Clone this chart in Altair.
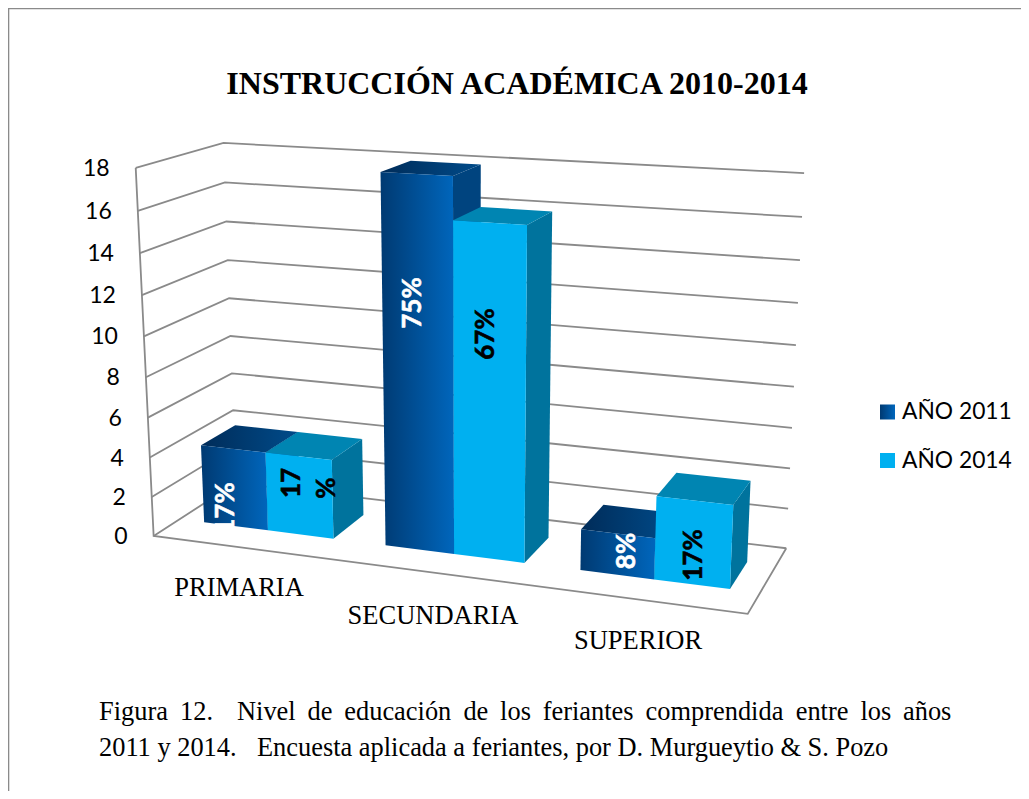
import numpy as np
import pandas as pd
import altair as alt

TITLE = "INSTRUCCIÓN ACADÉMICA 2010-2014"
categories = ["PRIMARIA", "SECUNDARIA", "SUPERIOR"]
values_2011 = [4, 18, 2]
values_2014 = [4, 16, 4]
series_names = ["AÑO 2011", "AÑO 2014"]
tick_values = [0, 2, 4, 6, 8, 10, 12, 14, 16, 18]
caption_line1 = ["Figura", "12.", "Nivel", "de", "educación", "de", "los", "feriantes",
                 "comprendida", "entre", "los", "años"]
caption_line2 = ["2011 y 2014.", "Encuesta aplicada a feriantes, por D. Murgueytio & S. Pozo"]

# camera calibration of the 3-D box: (category axis, value axis, depth) -> picture
VMAX = 18.0
calib = [
    ((0, 0, 0), (153, 535)), ((1, 0, 0), (748, 614)), ((0, 0, 1), (236, 484)), ((1, 0, 1), (786, 548)),
    ((0, 1, 0), (135, 168)), ((0, 1, 1), (224, 143)), ((1, 1, 1), (804, 173)),
    ((1, 8 / 18, 1), (794, 387)), ((0, 8 / 18, 1), (230, 335)), ((0, 8 / 18, 0), (147, 378)),
]
A = []
for (X, Y, Z), (u, v) in calib:
    A.append([X, Y, Z, 1, 0, 0, 0, 0, -u * X, -u * Y, -u * Z, -u])
    A.append([0, 0, 0, 0, X, Y, Z, 1, -v * X, -v * Y, -v * Z, -v])
P = np.linalg.svd(np.array(A, dtype=float) / 100.0)[2][-1].reshape(3, 4)


def proj(t, value, depth):
    """t in category units (0..3), value in data units, depth 0..1"""
    h = P @ np.array([t / 3.0, value / VMAX, depth, 1.0])
    return float(h[0] / h[2]), float(h[1] / h[2])


GAP = 0.14
BAR = 0.36
D0, D1 = 0.30, 0.72
W, H = 1013, 783
X_SCALE = alt.Scale(domain=[8, 8 + W], range=[0, W], nice=False, zero=False)
Y_SCALE = alt.Scale(domain=[8, 8 + H], range=[0, H], nice=False, zero=False)
enc_x = alt.X("x:Q", scale=X_SCALE, axis=None)
enc_y = alt.Y("y:Q", scale=Y_SCALE, axis=None)


def grad(c0, c1):
    return alt.LinearGradient(gradient="linear", x1=0, x2=1, y1=0, y2=0,
                              stops=[alt.GradientStop(offset=0, color=c0),
                                     alt.GradientStop(offset=1, color=c1)])


STY = {
    0: dict(front=grad("#003a72", "#0066bc"), top=grad("#002c59", "#004b8a"), side="#00447f"),
    1: dict(front="#00b0f0", top="#0085b2", side="#00739d"),
}


def poly(points, fill):
    pts = points + points[:1]
    df = pd.DataFrame({"x": [p[0] for p in pts], "y": [p[1] for p in pts], "i": range(len(pts))})
    return alt.Chart(df).mark_line(fill=fill, strokeWidth=0).encode(x=enc_x, y=enc_y, order="i:Q")


def polyline(points, w=1.8):
    df = pd.DataFrame({"x": [p[0] for p in points], "y": [p[1] for p in points], "i": range(len(points))})
    return alt.Chart(df).mark_line(color="#8a8a8a", strokeWidth=w).encode(x=enc_x, y=enc_y, order="i:Q")


def text(s, x, y, size, font, **kw):
    df = pd.DataFrame({"x": [x], "y": [y], "s": [s]})
    return alt.Chart(df).mark_text(fontSize=size, font=font, **kw).encode(x=enc_x, y=enc_y, text="s:N")


SERIF = "Liberation Serif"
SANS = "Lato"
layers = []

# page frame
layers.append(polyline([(8 + W, 8.5), (8.5, 8.5), (8.5, 8 + H)], 1.6))

# walls and floor
for v in tick_values:
    layers.append(polyline([proj(0, v, 0), proj(0, v, 1), proj(3, v, 1)]))
layers.append(polyline([proj(0, 18, 0), proj(0, 0, 0), proj(3, 0, 0), proj(3, 0, 1)]))

# bars
for i, _ in enumerate(categories):
    for s, vals in enumerate([values_2011, values_2014]):
        v = vals[i]
        t0 = i + GAP + s * BAR
        t1 = t0 + BAR
        st = STY[s]
        layers.append(poly([proj(t1, 0, D0), proj(t1, 0, D1), proj(t1, v, D1), proj(t1, v, D0)], st["side"]))
        layers.append(poly([proj(t0, v, D0), proj(t1, v, D0), proj(t1, v, D1), proj(t0, v, D1)], st["top"]))
        layers.append(poly([proj(t0, 0, D0), proj(t1, 0, D0), proj(t1, v, D0), proj(t0, v, D0)], st["front"]))

# tick labels follow the front-left edge
for v in tick_values:
    px, py = proj(0, v, 0)
    layers.append(text(str(v), px - 26, py + 1, 23, SANS, align="right", baseline="middle", color="#000000"))

# category labels
cat_pos = [(239, 596), (433, 624), (638, 649)]
for c, (x, y) in zip(categories, cat_pos):
    layers.append(text(c, x, y, 26.5, SERIF, align="center", baseline="alphabetic", color="#000000"))

# bar labels
bar_labels = [
    ("17%", 226, 508, "#ffffff"), ("17", 292, 483, "#000000"), ("%", 327, 488, "#000000"),
    ("75%", 413, 303, "#ffffff"), ("67%", 486, 334, "#000000"),
    ("8%", 627, 551, "#ffffff"), ("17%", 693.5, 555, "#000000"),
]
for s, x, y, col in bar_labels:
    layers.append(text(s, x, y, 26, SANS, align="center", baseline="middle", angle=270,
                       fontWeight="bold", color=col, stroke=col, strokeWidth=0.6))

# legend
for name, y, fill in zip(series_names, (412, 460.5), (grad("#003a72", "#0066bc"), "#00b0f0")):
    sw = pd.DataFrame({"x": [887.5], "y": [y]})
    layers.append(alt.Chart(sw).mark_square(size=225, fill=fill, strokeWidth=0, opacity=1).encode(x=enc_x, y=enc_y))
    layers.append(text(name, 902, y, 22.8, SANS, align="left", baseline="middle", color="#000000"))

# title
layers.append(text(TITLE, 517, 94, 32, SERIF, align="center", baseline="alphabetic", fontWeight="bold", color="#000000"))

# caption
xs1 = [99, 180, 237, 307.6, 344.3, 463.4, 500.1, 542.7, 645.6, 795.7, 860.4, 903]
for w, x in zip(caption_line1, xs1):
    layers.append(text(w, x, 720, 26.4, SERIF, align="left", baseline="alphabetic", color="#000000"))
for w, x in zip(caption_line2, (99, 257)):
    layers.append(text(w, x, 756, 26.4, SERIF, align="left", baseline="alphabetic", color="#000000"))

chart = alt.layer(*layers).properties(
    width=W, height=H, padding=0, background="#ffffff",
    autosize=alt.AutoSizeParams(type="none"),
).configure_view(stroke=None)

chart.save("out.html", embed_options={"renderer": "svg", "actions": False})
